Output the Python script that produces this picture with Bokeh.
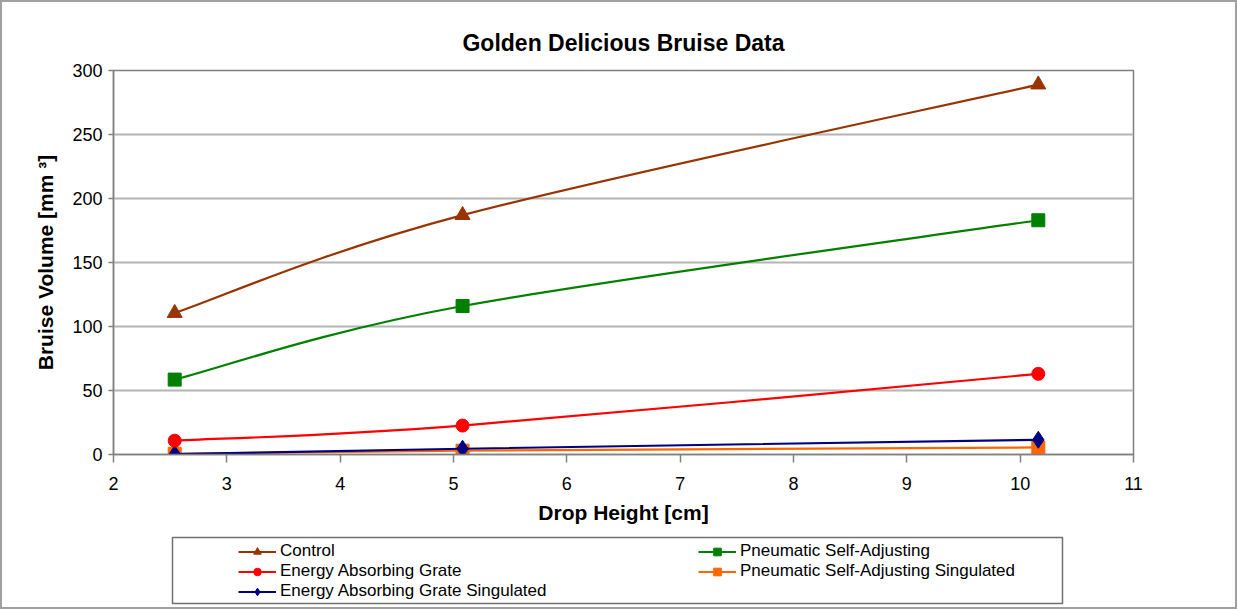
from bokeh.plotting import figure
from bokeh.layouts import column
from bokeh.models import Range1d, FixedTicker, Legend, LegendItem, BoxAnnotation
from bokeh.embed import file_html
from bokeh.resources import INLINE

# ---- data ----
drop_height = [2.54, 5.08, 10.16]
control = [110.5, 187.0, 289.0]
pneumatic = [58.5, 116.0, 183.0]
energy_grate = [10.8, 22.6, 63.0]
pneumatic_sing = [0.5, 3.0, 5.5]
energy_grate_sing = [0.3, 4.5, 11.5]

series_names = ["Control", "Energy Absorbing Grate", "Energy Absorbing Grate Singulated",
                "Pneumatic Self-Adjusting", "Pneumatic Self-Adjusting Singulated"]
x_ticks = [2, 3, 4, 5, 6, 7, 8, 9, 10, 11]
y_ticks = [0, 50, 100, 150, 200, 250, 300]

FONT = "Liberation Sans"
BORDER = 2
W = 1237 - 2 * BORDER
H_TOP = 532
H_BOT = 609 - 2 * BORDER - H_TOP

# page positions of the plot frame
FL, FR, FT, FB = 113, 1133, 70, 454
MB_L, MB_R = FL - BORDER, W - (FR - BORDER)

p = figure(width=W, height=H_TOP, output_backend="svg", toolbar_location=None,
           x_range=Range1d(2, 11), y_range=Range1d(0, 300),
           min_border_left=MB_L, min_border_right=MB_R,
           min_border_top=FT - BORDER, min_border_bottom=H_TOP - (FB - BORDER),
           title="Golden Delicious Bruise Data")

p.title.align = "center"
p.title.text_font = FONT
p.title.text_font_size = "23px"
p.title.text_font_style = "bold"
p.title.text_color = "black"
p.title.standoff = 29

p.background_fill_color = "white"
p.border_fill_color = "white"
p.outline_line_color = "#808080"
p.outline_line_width = 1.5

p.xgrid.grid_line_color = None
p.ygrid.grid_line_color = "#b4b4b4"
p.ygrid.grid_line_width = 2
p.xaxis.ticker = FixedTicker(ticks=x_ticks)
p.yaxis.ticker = FixedTicker(ticks=y_ticks)

for ax in (p.xaxis, p.yaxis):
    ax.axis_line_color = "#808080"
    ax.axis_line_width = 1.5
    ax.major_tick_line_color = "#808080"
    ax.major_tick_line_width = 1.5
    ax.major_tick_in = 0
    ax.minor_tick_line_color = None
    ax.major_label_text_font = FONT
    ax.major_label_text_font_size = "18px"
    ax.major_label_text_color = "black"
    ax.axis_label_text_font = FONT
    ax.axis_label_text_font_size = "21px"
    ax.axis_label_text_font_style = "bold"
    ax.axis_label_text_color = "black"

p.xaxis.axis_label = "Drop Height [cm]"
p.yaxis.axis_label = "Bruise Volume [mm \u00b3]"
p.xaxis.major_tick_out = 8
p.xaxis.major_label_standoff = 14
p.xaxis.axis_label_standoff = 8
p.yaxis.major_tick_out = 5
p.yaxis.major_label_standoff = 6
p.yaxis.axis_label_standoff = 12


def smooth_segments(xs, ys):
    """Bezier segments through the data points (Excel-like smoothed line)."""
    n = len(xs)
    out = dict(x0=[], y0=[], x1=[], y1=[], cx0=[], cy0=[], cx1=[], cy1=[])
    for i in range(n - 1):
        xp, yp = (xs[i - 1], ys[i - 1]) if i > 0 else (xs[i], ys[i])
        xn, yn = (xs[i + 2], ys[i + 2]) if i + 2 < n else (xs[i + 1], ys[i + 1])
        out["x0"].append(xs[i]); out["y0"].append(ys[i])
        out["x1"].append(xs[i + 1]); out["y1"].append(ys[i + 1])
        out["cx0"].append(xs[i] + (xs[i + 1] - xp) / 6.0)
        out["cy0"].append(ys[i] + (ys[i + 1] - yp) / 6.0)
        out["cx1"].append(xs[i + 1] - (xn - xs[i]) / 6.0)
        out["cy1"].append(ys[i + 1] - (yn - ys[i]) / 6.0)
    return out


styles = [
    (control, "#993300", "triangle", 15),
    (energy_grate, "#ff0000", "circle", 13),
    (energy_grate_sing, "#000080", "diamond", 17),
    (pneumatic, "#008000", "square", 13),
    (pneumatic_sing, "#ff6600", "square", 13),
]

for k in [4, 2, 1, 3, 0]:
    vals, col, mk, sz = styles[k]
    seg = smooth_segments(drop_height, vals)
    p.bezier(x0="x0", y0="y0", x1="x1", y1="y1", cx0="cx0", cy0="cy0",
             cx1="cx1", cy1="cy1", source=seg, line_color=col, line_width=2.2)
    p.scatter(drop_height, vals, marker=mk, size=sz, fill_color=col, line_color=col)

# ---- legend panel (box below the chart) ----
top_of_bot = BORDER + H_TOP          # page y where the lower figure starts
LB_L, LB_R, LB_T, LB_B = 172, 1062, 537, 603   # page box of the legend
q = figure(width=W, height=H_BOT, output_backend="svg", toolbar_location=None,
           x_axis_location=None, y_axis_location=None,
           x_range=Range1d(2, 11), y_range=Range1d(0, 300),
           min_border_left=MB_L, min_border_right=MB_R,
           min_border_top=0, min_border_bottom=0)
q.xgrid.grid_line_color = None
q.ygrid.grid_line_color = None
q.background_fill_color = "white"
q.border_fill_color = "white"
q.outline_line_color = None

box = BoxAnnotation(left=LB_L - BORDER, right=LB_R - BORDER,
                    top=LB_T - top_of_bot, bottom=LB_B - top_of_bot,
                    left_units="canvas", right_units="canvas",
                    top_units="canvas", bottom_units="canvas",
                    fill_color="white", fill_alpha=1,
                    line_color="#707070", line_alpha=1, line_width=1.5,
                    level="underlay")
q.add_layout(box)

items = []
for k, (vals, col, mk, sz) in enumerate(styles):
    ln = q.line(drop_height, vals, line_color=col, line_width=2.2, visible=False)
    sc = q.scatter(drop_height, vals, marker=mk, size=sz, fill_color=col,
                   line_color=col, visible=False)
    items.append(LegendItem(label=series_names[k], renderers=[ln, sc], index=0))

legend = Legend(items=items, ncols=2, orientation="vertical",
                location=(238 - FL, (top_of_bot + H_BOT) - 601),
                label_text_font=FONT, label_text_font_size="17px", label_text_color="black",
                glyph_width=38, glyph_height=19, label_height=19, label_standoff=4,
                label_width=418, spacing=0, padding=0, margin=0,
                background_fill_alpha=0, border_line_alpha=0,
                inactive_fill_alpha=0, click_policy="none")
q.add_layout(legend, "center")

layout = column(p, q, spacing=0,
                styles={"border": f"{BORDER}px solid #a0a0a0", "background-color": "white"})

open("out.html", "w").write(file_html(layout, INLINE))
